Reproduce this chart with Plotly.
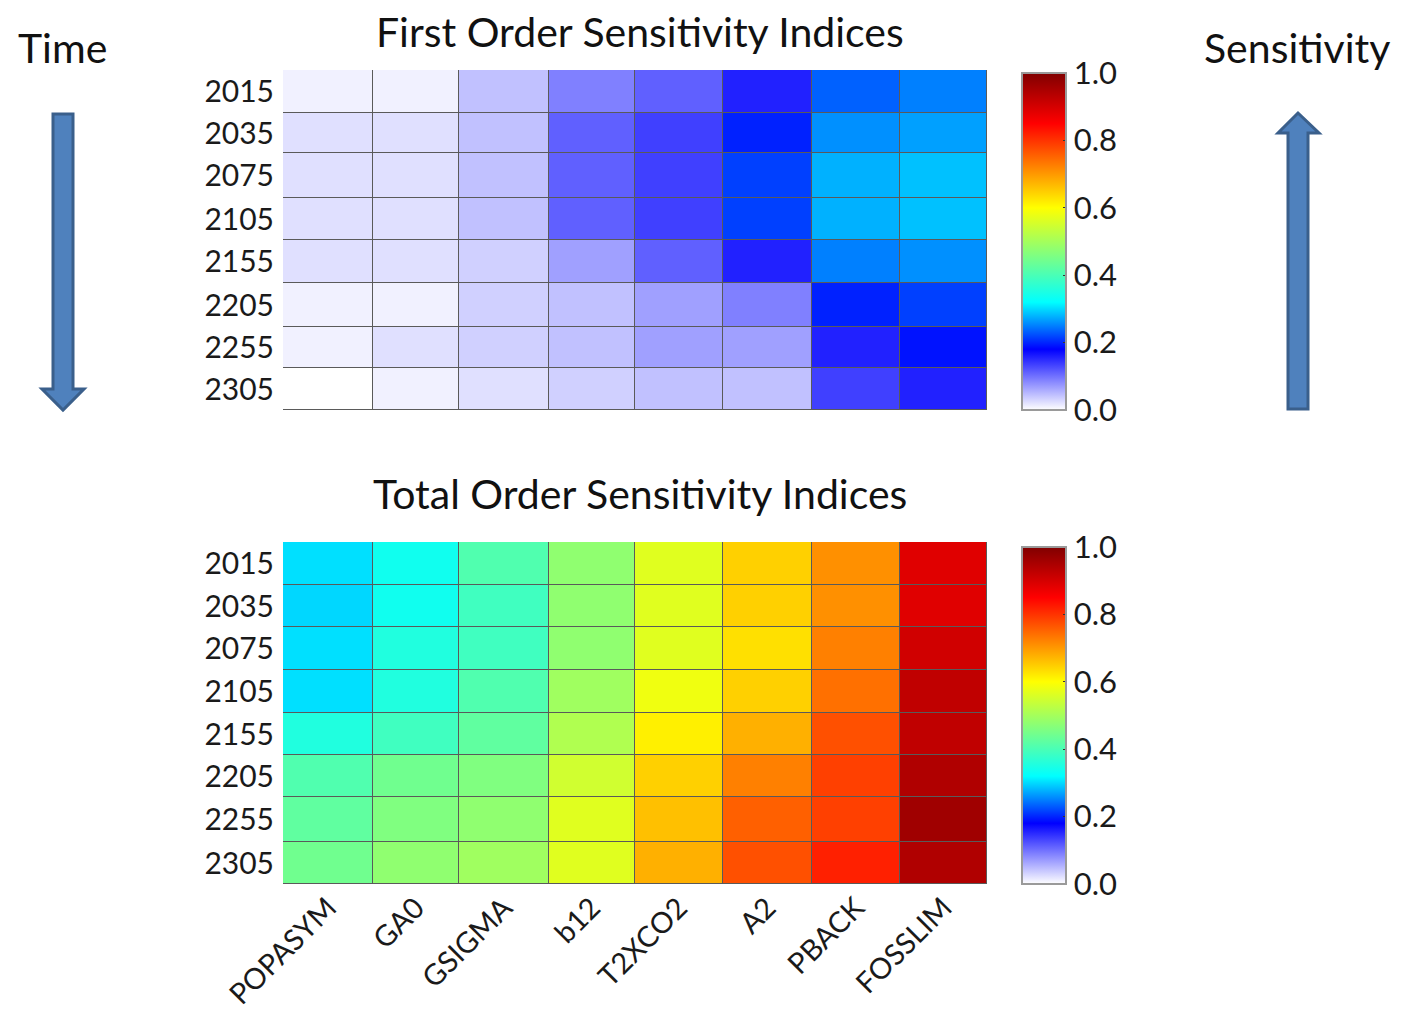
import plotly.graph_objects as go

W, H = 1404, 1011

params = ["POPASYM", "GA0", "GSIGMA", "b12", "T2XCO2", "A2", "PBACK", "FOSSLIM"]
years = ["2015", "2035", "2075", "2105", "2155", "2205", "2255", "2305"]

first_order = [
    [0.010, 0.010, 0.044, 0.090, 0.112, 0.157, 0.233, 0.250],
    [0.022, 0.022, 0.044, 0.112, 0.135, 0.198, 0.259, 0.268],
    [0.022, 0.022, 0.044, 0.112, 0.135, 0.215, 0.277, 0.286],
    [0.022, 0.022, 0.044, 0.112, 0.135, 0.215, 0.277, 0.286],
    [0.022, 0.022, 0.033, 0.067, 0.112, 0.157, 0.250, 0.259],
    [0.010, 0.010, 0.033, 0.044, 0.067, 0.090, 0.198, 0.215],
    [0.010, 0.022, 0.033, 0.044, 0.067, 0.067, 0.157, 0.190],
    [0.000, 0.010, 0.022, 0.033, 0.044, 0.044, 0.135, 0.157],
]

total_order = [
    [0.303, 0.338, 0.408, 0.478, 0.566, 0.646, 0.709, 0.887],
    [0.298, 0.338, 0.390, 0.478, 0.566, 0.646, 0.709, 0.887],
    [0.303, 0.355, 0.390, 0.478, 0.566, 0.630, 0.725, 0.906],
    [0.303, 0.355, 0.408, 0.495, 0.583, 0.646, 0.740, 0.924],
    [0.355, 0.390, 0.425, 0.513, 0.615, 0.677, 0.772, 0.924],
    [0.408, 0.443, 0.460, 0.548, 0.646, 0.725, 0.787, 0.943],
    [0.425, 0.460, 0.478, 0.566, 0.662, 0.756, 0.787, 0.962],
    [0.443, 0.478, 0.495, 0.566, 0.677, 0.772, 0.819, 0.943],
]

cbar_ticks = [0.0, 0.2, 0.4, 0.6, 0.8, 1.0]

# layout geometry (pixels in the screenshot)
col_edges = [283, 373, 459, 549, 635, 723, 812, 900, 987]
row_edges_top = [70, 113, 153, 198, 240, 283, 327, 368, 410]
row_edges_bot = [542, 585, 627, 670, 713, 755, 797, 842, 884]

colorscale = [
    [0.00, "#ffffff"],
    [0.18, "#0000ff"],
    [0.32, "#00ffff"],
    [0.46, "#80ff80"],
    [0.60, "#ffff00"],
    [0.85, "#ff0000"],
    [1.00, "#800000"],
]

FONT = "Lato, Open Sans, sans-serif"
OFF = 8  # page body margin

def px(x):
    return (x - OFF) / W

def py(y):
    return 1 - (y - OFF) / H

xe = [e - col_edges[0] for e in col_edges]
xc = [(xe[i] + xe[i + 1]) / 2 for i in range(len(params))]
ye_t = [e - row_edges_top[0] for e in row_edges_top]
yc_t = [(ye_t[i] + ye_t[i + 1]) / 2 for i in range(len(years))]
ye_b = [e - row_edges_bot[0] for e in row_edges_bot]
yc_b = [(ye_b[i] + ye_b[i + 1]) / 2 for i in range(len(years))]

def cbar(y0, y1):
    return dict(
        x=px(1022), xanchor="left", xpad=0,
        y=py((y0 + y1) / 2), yanchor="middle", ypad=0,
        len=(y1 - y0) / H, lenmode="fraction",
        thickness=44, thicknessmode="pixels",
        outlinecolor="#9a9a9a", outlinewidth=2,
        tickvals=cbar_ticks, ticktext=[f"{t:.1f}" for t in cbar_ticks],
        ticks="inside", ticklen=4, tickcolor="#333",
        tickfont=dict(family=FONT, size=31, color="#1a1a1a"),
    )

fig = go.Figure()
fig.add_trace(go.Heatmap(
    z=first_order, x=xe, y=ye_t, zmin=0, zmax=1, colorscale=colorscale,
    xgap=1, ygap=1, colorbar=cbar(73, 410), xaxis="x", yaxis="y",
    hovertemplate="%{z}<extra></extra>",
))
fig.add_trace(go.Heatmap(
    z=total_order, x=xe, y=ye_b, zmin=0, zmax=1, colorscale=colorscale,
    xgap=1, ygap=1, colorbar=cbar(547, 884), xaxis="x2", yaxis="y2",
    hovertemplate="%{z}<extra></extra>",
))

tickfont = dict(family=FONT, size=30, color="#1a1a1a")
fig.update_layout(
    width=W, height=H, margin=dict(l=0, r=0, t=0, b=0, autoexpand=False),
    paper_bgcolor="white", plot_bgcolor="#5a5a5a",
    xaxis=dict(domain=[px(283), px(987)], range=[xe[0], xe[-1]], showticklabels=False,
               showgrid=False, zeroline=False, anchor="y", ticks=""),
    yaxis=dict(domain=[py(410), py(70)], range=[ye_t[-1], ye_t[0]], tickvals=yc_t, ticktext=years,
               showgrid=False, zeroline=False, anchor="x", tickfont=tickfont, ticks="", ticklabelstandoff=8),
    xaxis2=dict(domain=[px(283), px(987)], range=[xe[0], xe[-1]], tickvals=xc, ticktext=params,
                tickangle=-45, showgrid=False, zeroline=False, anchor="y2",
                tickfont=dict(family=FONT, size=29, color="#1a1a1a"), ticks=""),
    yaxis2=dict(domain=[py(884), py(542)], range=[ye_b[-1], ye_b[0]], tickvals=yc_b, ticktext=years,
                showgrid=False, zeroline=False, anchor="x2", tickfont=tickfont, ticks="", ticklabelstandoff=8),
)

annots = [
    ("First Order Sensitivity Indices", 640, 31),
    ("Total Order Sensitivity Indices", 640, 494),
    ("Time", 62, 47),
    ("Sensitivity", 1297, 47),
]
for text, x, y in annots:
    fig.add_annotation(text=text, x=px(x), y=py(y), xref="paper", yref="paper",
                       showarrow=False, xanchor="center", yanchor="middle",
                       font=dict(family=FONT, size=41, color="#111"))

def path(points):
    return "M " + " L ".join(f"{px(x):.5f},{py(y):.5f}" for x, y in points) + " Z"

down = [(53, 114), (73, 114), (73, 389), (84, 389), (63, 410), (42, 389), (53, 389)]
up = [(1298, 113), (1319, 133), (1308, 133), (1308, 409), (1288, 409), (1288, 133), (1278, 133)]
for pts in (down, up):
    fig.add_shape(type="path", path=path(pts), xref="paper", yref="paper",
                  fillcolor="#4f81bd", line=dict(color="#3a5f8b", width=3))

fig.write_html("out.html")
